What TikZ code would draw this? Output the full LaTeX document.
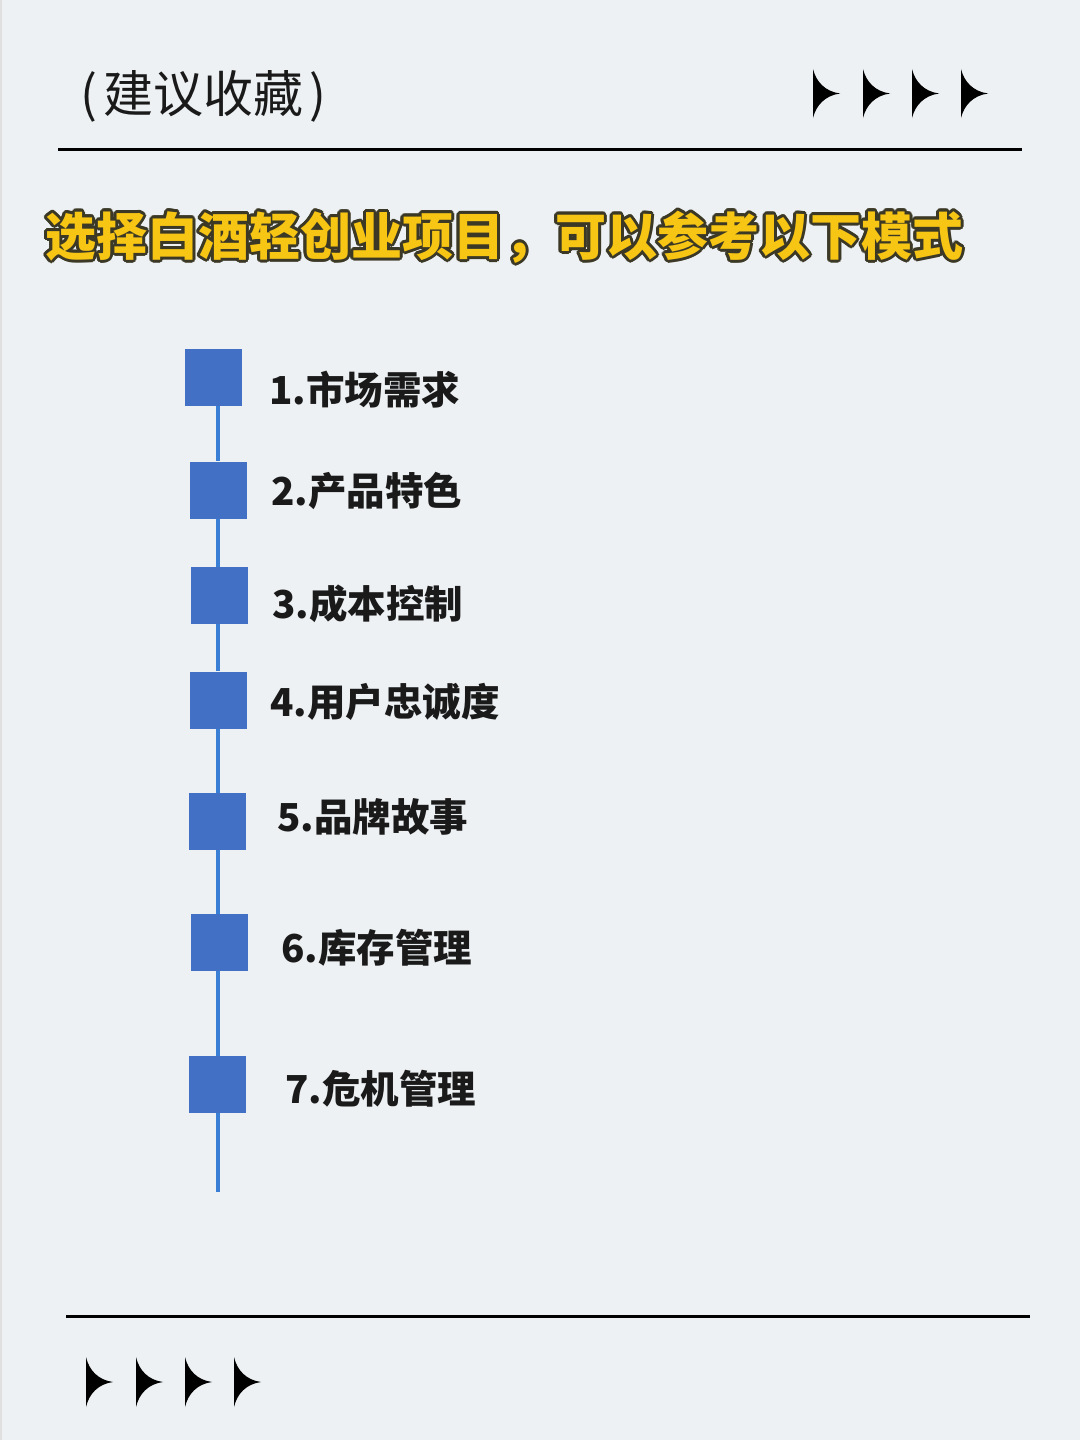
\documentclass[tikz,border=0pt]{standalone}
\usepackage{fontspec}
\usetikzlibrary{calc,backgrounds}
\newfontfamily\cjk{Noto Sans CJK SC}
\definecolor{bg}{HTML}{EDF1F3}
\definecolor{sq}{HTML}{4270C4}
\definecolor{ln}{HTML}{3A7FD6}
\definecolor{ttl}{HTML}{F7C514}
\definecolor{ttlo}{HTML}{3B3826}
\definecolor{txt}{HTML}{1A1A1A}
\tikzset{
  stepsq/.style={fill=sq, draw=none, minimum width=57pt, minimum height=57pt, inner sep=0pt},
  steplbl/.style={anchor=west, inner sep=0pt, text=txt, font=\cjk\bfseries\fontsize{38.5}{42}\selectfont},
  rulel/.style={line width=3pt, black},
  arrowhd/.style={fill=black, draw=none},
  tline/.style={ln, line width=4pt},
}
\newcommand{\arrowshape}[3]{% x, top, bottom
  \fill[arrowhd] (#1,#2) .. controls (#1+3,{(#2+#3)/2-12}) and (#1+12,{(#2+#3)/2-2}) .. (#1+27,{(#2+#3)/2})
    .. controls (#1+12,{(#2+#3)/2+2}) and (#1+3,{(#2+#3)/2+12}) .. (#1,#3) -- cycle;}
\begin{document}
\begin{tikzpicture}[x=1pt,y=-1pt]
\begin{scope}[on background layer]
\fill[bg] (0,0) rectangle (1080,1440);
\fill[black!12] (0,0) rectangle (2,1440);
\end{scope}
\useasboundingbox (0,0) rectangle (1080,1440);
% header
\node[anchor=west, inner sep=0pt, font=\cjk\fontsize{50}{54}\selectfont, text=txt] (hdr) at (80,96) {(\kern6pt 建议收藏\kern6pt)};
\coordinate (r1a) at (58,149); \coordinate (r1b) at (1022,149);
\draw[rulel] (r1a) -- (r1b);
\foreach \x in {813,863,912,961} {\arrowshape{\x}{69}{118}}
% title
\def\ttltext{选择白酒轻创业项目，可以参考以下模式}
\foreach \a in {0,22.5,...,337.5} {
  \node[anchor=west, inner sep=0pt, font=\cjk\bfseries\fontsize{51}{55}\selectfont, text=ttlo] at ($(45,237)+(\a:2.8)$) {\ttltext};
}
\node[anchor=west, inner sep=0pt, font=\cjk\bfseries\fontsize{51}{55}\selectfont, text=ttl] (title) at (45,237) {\ttltext};
% timeline
\coordinate (tlend) at (218,1192);
\node[stepsq] (s1) at (213.5,377) {};
\node[stepsq] (s2) at (218,490) {};
\node[stepsq] (s3) at (219.5,595.5) {};
\node[stepsq] (s4) at (218.5,700) {};
\node[stepsq] (s5) at (217.5,821.5) {};
\node[stepsq] (s6) at (219.5,942.5) {};
\node[stepsq] (s7) at (217.5,1084.5) {};
\begin{scope}[on background layer]
\draw[tline] (tlend |- s1.south) -- (tlend |- s2.north);
\draw[tline] (tlend |- s2.south) -- (tlend |- s3.north);
\draw[tline] (tlend |- s3.south) -- (tlend |- s4.north);
\draw[tline] (tlend |- s4.south) -- (tlend |- s5.north);
\draw[tline] (tlend |- s5.south) -- (tlend |- s6.north);
\draw[tline] (tlend |- s6.south) -- (tlend |- s7.north);
\draw[tline] (tlend |- s7.south) -- (tlend);
\end{scope}
\node[steplbl] (l1) at (269,390) {1.市场需求};
\node[steplbl] (l2) at (271,491) {2.产品特色};
\node[steplbl] (l3) at (272,604) {3.成本控制};
\node[steplbl] (l4) at (270,702) {4.用户忠诚度};
\node[steplbl] (l5) at (277,817) {5.品牌故事};
\node[steplbl] (l6) at (281,948) {6.库存管理};
\node[steplbl] (l7) at (285,1089) {7.危机管理};
% footer
\coordinate (r2a) at (66,1316); \coordinate (r2b) at (1030,1316);
\draw[rulel] (r2a) -- (r2b);
\foreach \x in {86,136,185,234} {\arrowshape{\x}{1357}{1407}}
\end{tikzpicture}
\end{document}
